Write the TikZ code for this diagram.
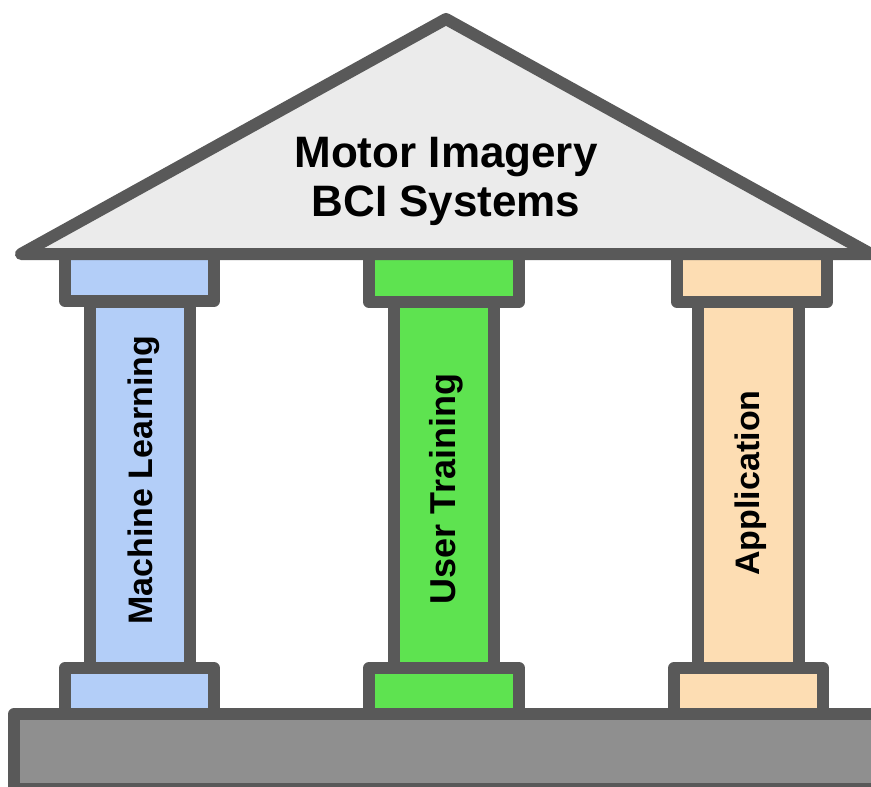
\documentclass[tikz,border=0pt]{standalone}
\usepackage{fontspec}
\setmainfont{Liberation Sans}
\begin{document}
\begin{tikzpicture}[x=1pt,y=-1pt,
  outline/.style={draw=edgegray,line width=12pt,line join=round},
  label/.style={font=\bfseries\fontsize{34}{40}\selectfont,inner sep=0pt,rotate=90,text=black}]
\definecolor{edgegray}{HTML}{595959}
\definecolor{roofgray}{HTML}{EBEBEB}
\definecolor{plinthgray}{HTML}{8F8F8F}
\definecolor{mlblue}{HTML}{B3CEF8}
\definecolor{utgreen}{HTML}{5EE350}
\definecolor{appeach}{HTML}{FDDDB3}
\useasboundingbox (0,0) rectangle (871,787);
\begin{scope}
\clip (0,0) rectangle (871,787);
% shafts
\draw[outline,fill=mlblue]  (90,302) rectangle (190,668);
\draw[outline,fill=utgreen] (394,302) rectangle (494,668);
\draw[outline,fill=appeach] (698,302) rectangle (799,668);
% capitals
\draw[outline,fill=mlblue]  (65,254) rectangle (214,301);
\draw[outline,fill=utgreen] (369,254) rectangle (519,302);
\draw[outline,fill=appeach] (677,254) rectangle (827,302);
% bases
\draw[outline,fill=mlblue]  (65,668) rectangle (214,714);
\draw[outline,fill=utgreen] (369,668) rectangle (519,714);
\draw[outline,fill=appeach] (674,668) rectangle (823,714);
% plinth
\draw[outline,fill=plinthgray] (14,714) rectangle (877,789);
% roof
\draw[outline,fill=roofgray] (21,254) -- (446,19) -- (871,254) -- cycle;
\end{scope}
\node[font=\bfseries\fontsize{44}{49}\selectfont,align=center,inner sep=0pt] (title) at (446,181) {Motor Imagery\\BCI Systems};
\node[label] (ml) at (144,480) {Machine Learning};
\node[label,font=\bfseries\fontsize{36}{40}\selectfont] (ut) at (446,489) {User Training};
\node[label] (app) at (751,483) {Application};
\end{tikzpicture}
\end{document}
